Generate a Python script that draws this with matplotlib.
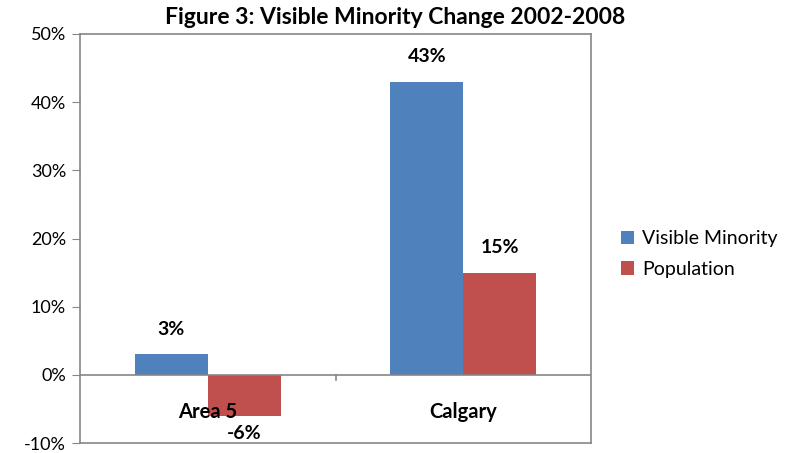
import numpy as np
import matplotlib.pyplot as plt
from matplotlib.ticker import FuncFormatter

plt.rcParams['font.family'] = ['Lato', 'DejaVu Sans']

categories = ['Area 5', 'Calgary']
visible_minority = [3, 43]
population = [-6, 15]
series_names = ['Visible Minority', 'Population']
colors = ['#4F81BD', '#C0504D']

fig = plt.figure(figsize=(7.9, 4.53), dpi=100)
ax = fig.add_axes([80 / 790, 10 / 453, 511 / 790, 409 / 453])

x = np.arange(len(categories))
w = 1 / 3.5
b1 = ax.bar(x - w / 2, visible_minority, w, color=colors[0], label=series_names[0])
b2 = ax.bar(x + w / 2, population, w, color=colors[1], label=series_names[1])

for bars in (b1, b2):
    for bar in bars:
        v = bar.get_height()
        cx = bar.get_x() + bar.get_width() / 2
        if v >= 0:
            ax.annotate(f'{v:.0f}%', (cx, v), xytext=(0, 18), textcoords='offset points',
                        ha='center', va='center', fontsize=14, fontweight='bold')
        else:
            ax.annotate(f'{v:.0f}%', (cx, v), xytext=(0, -13), textcoords='offset points',
                        ha='center', va='center', fontsize=14, fontweight='bold')

ax.set_xlim(-0.5, 1.5)
ax.set_ylim(-10, 50)
ax.set_yticks(range(-10, 51, 10))
ax.yaxis.set_major_formatter(FuncFormatter(lambda v, p: f'{v:.0f}%'))
ax.tick_params(axis='y', labelsize=13, length=6, color='#868686', pad=4)
ax.set_xticks([])

for s in ax.spines.values():
    s.set_color('#868686')
    s.set_linewidth(1.2)

# category axis at zero with a mid tick
ax.axhline(0, color='#868686', lw=1.2, zorder=3)
ax.plot([0.5, 0.5], [0, -0.7], color='#868686', lw=1.2, clip_on=False)
for xi, c in zip(x, categories):
    ax.text(xi, -5.4, c, ha='center', va='center', fontsize=14.5, fontweight='bold', zorder=4)

fig.text(395 / 790, 1 - 18 / 453, 'Figure 3: Visible Minority Change 2002-2008',
         ha='center', va='center', fontsize=16.5, fontweight='bold')

ax.legend(loc='center left', bbox_to_anchor=(603 / 790, 1 - 254 / 453), bbox_transform=fig.transFigure,
          frameon=False, fontsize=14, handlelength=0.7, handleheight=0.7, handletextpad=0.4,
          labelspacing=0.7)

fig.savefig('out.png', dpi=100)
